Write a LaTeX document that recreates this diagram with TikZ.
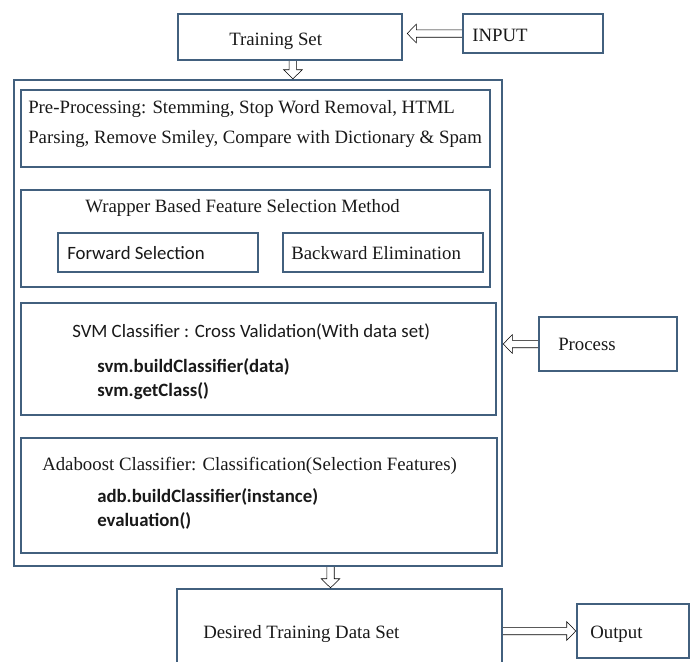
\documentclass[tikz,border=0pt]{standalone}
\usepackage{fontspec}
\setmainfont{Liberation Serif}
\newfontfamily\calib{Carlito}
\usetikzlibrary{calc,fit}
\definecolor{bc}{RGB}{66,96,126}
\definecolor{tc}{RGB}{25,25,25}
\tikzset{
  box/.style={draw=bc, line width=1.8pt, fill=white, inner sep=0pt},
  txt/.style={anchor=base west, inner sep=0pt, text=tc, font=\fontsize{14.1}{16}\selectfont},
  sans/.style={txt, font=\calib\fontsize{14.1}{16}\selectfont},
  code/.style={txt, font=\calib\bfseries\fontsize{14.1}{16}\selectfont},
  harrow/.style={draw=bc, line width=1.7pt, line join=miter, to path={
    ($(\tikztostart)!2.8pt!90:(\tikztotarget)$)
    -- ($($(\tikztotarget)!6.8pt!(\tikztostart)$)!2.8pt!90:(\tikztotarget)$)
    -- ($($(\tikztotarget)!6.8pt!(\tikztostart)$)!7pt!90:(\tikztotarget)$)
    -- (\tikztotarget)
    -- ($($(\tikztotarget)!6.8pt!(\tikztostart)$)!7pt!-90:(\tikztotarget)$)
    -- ($($(\tikztotarget)!6.8pt!(\tikztostart)$)!2.8pt!-90:(\tikztotarget)$)
    -- ($(\tikztostart)!2.8pt!-90:(\tikztotarget)$)
  }}
}
\begin{document}
\begin{tikzpicture}[x=0.75pt,y=-0.75pt]
\useasboundingbox (0,0) rectangle (695,661);
\fill[white] (0,0) rectangle (695,661);
\begin{scope}
\clip (0,0) rectangle (695,661);
% boxes
\node[box, fit={(178,14) (402,60)}] (tr) {};
\node[box, fit={(463,14) (603,53)}] (inp) {};
\node[box, fit={(14,80) (502,566)}] (outer) {};
\node[box, fit={(21,90) (490,167)}] (pre) {};
\node[box, fit={(21,190) (490,287)}] (wrap) {};
\node[box, fit={(58,233) (258,272)}] (fwd) {};
\node[box, fit={(283,233) (483,272)}] (bwd) {};
\node[box, fit={(21,303) (496,415)}] (svm) {};
\node[box, fit={(21,438) (497,553)}] (ada) {};
\node[box, fit={(539,317) (677,371)}] (proc) {};
\node[box, fit={(177,589) (502,690)}] (des) {};
\node[box, fit={(577,604) (689,658)}] (out) {};
\end{scope}
% texts
\node[txt] (trt) at (229,45) {Training Set};
\node[txt] (inpt) at (472,41) {INPUT};
\node[txt] (pre1) at (28,113) {Pre-Processing: Stemming, Stop Word Removal, HTML};
\node[txt] (pre2) at (28,143) {Parsing, Remove Smiley, Compare with Dictionary \& Spam};
\node[txt] (wrapt) at (85,212) {Wrapper Based Feature Selection Method};
\node[sans] (fwdt) at (67,259) {Forward Selection};
\node[txt] (bwdt) at (291,259) {Backward Elimination};
\node[sans] (svmt) at (72,337) {SVM Classifier : Cross Validation(With data set)};
\node[code] (svm1) at (97,372) {svm.buildClassifier(data)};
\node[code] (svm2) at (97,396) {svm.getClass()};
\node[txt] (adat) at (42,470) {Adaboost Classifier: Classification(Selection Features)};
\node[code] (ada1) at (97,502) {adb.buildClassifier(instance)};
\node[code] (ada2) at (97,526) {evaluation()};
\node[txt] (proct) at (558,350) {Process};
\node[txt] (dest) at (203,638) {Desired Training Data Set};
\node[txt] (outt) at (590,638) {Output};
% arrows
\coordinate (tin) at ($(tr.east |- inp.west)+(4,0)$);
\draw (inp.west) to[harrow] (tin);
\draw ([xshift=2.2pt]tr.south) to[harrow] ([xshift=2.2pt]tr.south |- outer.north);
\draw (proc.west) to[harrow] (outer.east |- proc.west);
\coordinate (dn) at ($(des.north)+(-9,0)$);
\draw (dn |- outer.south) to[harrow] (dn);
\draw (des.east |- out.west) to[harrow] (out.west);
\end{tikzpicture}
\end{document}
